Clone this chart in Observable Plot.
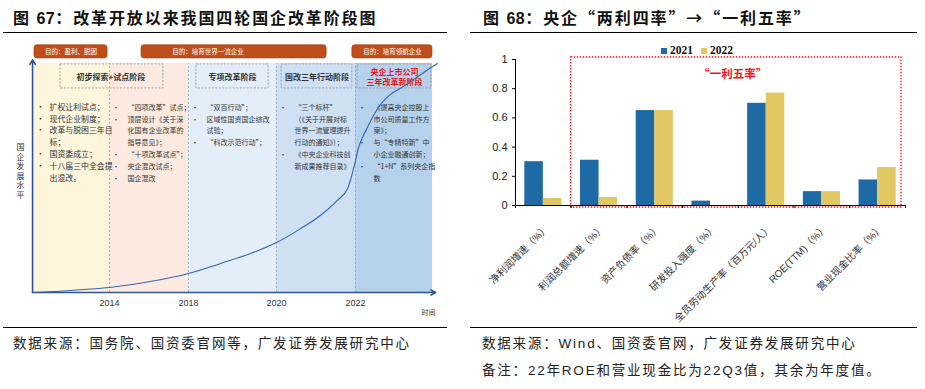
<!DOCTYPE html>
<html><head><meta charset="utf-8">
<script src="https://cdn.jsdelivr.net/npm/d3@7"></script>
<script src="https://cdn.jsdelivr.net/npm/@observablehq/plot@0.6"></script>
<style>
body{margin:0;width:925px;height:389px;position:relative;background:#fff;overflow:hidden;font-family:"Liberation Sans","Noto Sans CJK SC",sans-serif;}
.abs{position:absolute;white-space:nowrap;}
.title{font-family:"Noto Sans CJK SC",sans-serif;font-size:16px;font-weight:bold;letter-spacing:1.9px;color:#111;line-height:18px;}
.title .num{font-family:"Liberation Sans",sans-serif;letter-spacing:0.5px;}
.rule{position:absolute;height:0;border-top:1.5px solid #000;}
.cap{font-size:13.5px;letter-spacing:1.8px;color:#222;line-height:16px;}
.leg{font-family:"Liberation Serif",serif;font-weight:bold;font-size:11.5px;line-height:12px;color:#111;}
.sw{display:inline-block;width:6px;height:6px;margin-right:3px;vertical-align:0px;}
</style></head><body>

<div class="abs title" style="left:13px;top:8px">图 <span class="num">67</span>：改革开放以来我国四轮国企改革阶段图</div>
<div class="rule" style="left:3px;width:444px;top:32px"></div>
<div id="left" class="abs" style="left:0;top:40px;width:460px;height:285px"></div>
<div class="rule" style="left:3px;width:444px;top:327px"></div>
<div class="abs cap" style="left:13px;top:336px">数据来源：国务院、国资委官网等，广发证券发展研究中心</div>

<div class="abs title" style="left:483px;top:8px">图 <span class="num">68</span>：央企“两利四率”→“一利五率”</div>
<div class="rule" style="left:470px;width:447px;top:32px"></div>
<div id="legend" class="abs leg" style="left:661px;top:44px"></div>
<div id="right" class="abs" style="left:470px;top:40px;width:450px;height:290px"></div>
<div class="rule" style="left:470px;width:447px;top:327px"></div>
<div class="abs cap" style="left:482px;top:336px">数据来源：Wind、国资委官网，广发证券发展研究中心</div>
<div class="abs cap" style="left:482px;top:363px">备注：22年ROE和营业现金比为22Q3值，其余为年度值。</div>

<script>
// ---------- Right chart data ----------
const categories = ["净利润增速（%）","利润总额增速（%）","资产负债率（%）","研发投入强度（%）","全员劳动生产率（百万元/人）","ROE(TTM)（%）","营业现金比率（%）"];
const values2021 = [0.30, 0.31, 0.65, 0.03, 0.70, 0.095, 0.175];
const values2022 = [0.048, 0.055, 0.65, 0, 0.77, 0.095, 0.26];
const seriesNames = ["2021", "2022"];
const yTicks = [0, 0.2, 0.4, 0.6, 0.8, 1];
const highlightLabel = "“一利五率”";
const highlightFirst = "利润总额增速（%）";

// ---------- Left diagram data ----------
const bandEdges = [2010, 2014, 2018, 2020, 2022, 2024];
const yearTicks = [2014, 2018, 2020, 2022];
const curveYears  = [2010, 2011.95, 2014, 2016.08, 2018, 2018.73, 2019.41, 2020, 2020.61, 2021.11, 2021.54, 2021.80, 2021.92, 2022, 2022.08, 2022.18, 2022.31, 2022.44, 2022.65, 2022.91, 2023.25, 2023.77, 2024.13];
const curveLevels = [0, 0.9, 2.2, 4.8, 8.3, 12.7, 17.0, 21.8, 27.9, 33.6, 40.2, 45.4, 52.0, 57.6, 63.3, 67.7, 72.1, 76.4, 82.1, 86.5, 90.0, 96.1, 100];
const goalLabels = ["目的：盈利、脱困", "目的：培育世界一流企业", "目的：培育领航企业"];
const goalStart = [2010.05, 2015.62, 2021.92];
const goalEnd = [2013.9, 2021.27, 2024];
const stageNames = ["初步探索+试点阶段", "专项改革阶段", "国改三年行动阶段", "央企上市公司\n三年改革新阶段"];
const stageStart = [2011.42, 2018.18, 2020.13, 2022.05];
const stageEnd = [2016.73, 2019.82, 2021.92, 2023.97];
const bulletColumns = [
  ["扩权让利试点；", "现代企业制度；", "改革与脱困三年目\n标；", "国资委成立；", "十八届三中全会提\n出混改。"],
  ["“四项改革”试点；", "顶层设计《关于深\n化国有企业改革的\n指导意见》；", "“十项改革试点”；", "央企混改试点；", "国企混改"],
  ["“双百行动”；", "区域性国资国企综改\n试验；", "“科改示范行动”；"],
  ["“三个标杆”\n（《关于开展对标\n世界一流管理提升\n行动的通知》）；", "《中央企业科技创\n新成果推荐目录》"],
  ["《提高央企控股上\n市公司质量工作方\n案》；", "与“专精特新”中\n小企业融通创新；", "“1+N”系列央企指\n数"]
];
const yLabel = "国企发展水平";
const xLabel = "时间";

// ---------- Legend ----------
const legendColors = ["#1D6AA5", "#E2C865"];
document.getElementById("legend").innerHTML = seriesNames.map((s, i) =>
  `<span style="margin-right:8px"><span class="sw" style="background:${legendColors[i]}"></span>${s}</span>`).join("");

// ---------- Right chart ----------
const rows = categories.flatMap((c, i) => [
  {i, series: seriesNames[0], v: values2021[i]},
  {i, series: seriesNames[1], v: values2022[i]}
]);
const bw = 1 / 3;
const n = categories.length;
const right = Plot.plot({
  width: 450, height: 290,
  marginLeft: 45, marginRight: 15, marginTop: 19, marginBottom: 125,
  x: {type: "linear", domain: [-0.5, n - 0.5]},
  y: {domain: [0, 1]},
  color: {domain: seriesNames, range: legendColors},
  style: {fontFamily: "Liberation Sans, Noto Sans CJK SC", fontSize: "11px", color: "#222", background: "transparent", overflow: "visible"},
  marks: [
    Plot.rectY(rows, {
      x1: d => d.series === seriesNames[0] ? d.i - bw : d.i,
      x2: d => d.series === seriesNames[0] ? d.i : d.i + bw,
      y: "v", fill: "series"
    }),
    Plot.rect([0], {x1: categories.indexOf(highlightFirst) - 0.5, x2: n - 0.5, y1: 0, y2: 1,
      fill: "none", stroke: "#E8141B", strokeWidth: 1.3, strokeDasharray: "1.5,1.5",
      insetTop: -2, insetBottom: -2, insetRight: 4}),
    Plot.text([highlightLabel], {x: 3.4, y: 0.9, fill: "#F0141E", fontWeight: "bold", fontSize: 11.5, fontFamily: "Noto Sans CJK SC"}),
    Plot.axisY({ticks: yTicks, tickSize: 3, tickPadding: 5, tickFormat: d => String(d), label: null, fontSize: 11, stroke: "#000"}),
    Plot.ruleX([-0.5], {y1: 0, y2: 1, stroke: "#000"}),
    Plot.ruleY([0], {stroke: "#000"}),
    Plot.axisX({ticks: d3.range(-0.5, n, 1), tickSize: 3, tickFormat: () => "", label: null, stroke: "#000"}),
    Plot.axisX({ticks: d3.range(n), tickSize: 0, tickPadding: 21, dx: 4, tickRotate: -45,
      tickFormat: i => categories[i], label: null, fontSize: 10, fill: "#333"})
  ]
});
document.getElementById("right").appendChild(right);

// ---------- Left diagram ----------
const bands = bandEdges.slice(0, -1).map((s, i) => ({k: i, start: s, end: bandEdges[i + 1]}));
const curve = curveYears.map((y, i) => ({year: y, level: curveLevels[i]}));
const goals = goalLabels.map((g, i) => ({label: g, start: goalStart[i], end: goalEnd[i]}));
const stages = stageNames.map((s, i) => ({name: s, start: stageStart[i], end: stageEnd[i], last: i === stageNames.length - 1}));
const axisColor = "#2F5597";

const colMarks = bulletColumns.flatMap((items, ci) => {
  const fs = ci === 0 ? 7.9 : 7;
  const lh = 11.8 / fs;
  const txt = items.join("\n");
  const bul = items.map(it => "•" + "\n".repeat(it.split("\n").length - 1)).join("\n");
  const common = {x: bandEdges[ci], frameAnchor: "top", dy: 38, lineAnchor: "top", textAnchor: "start",
    fontSize: fs, lineHeight: lh, fill: "#333", fontFamily: "Noto Sans CJK SC"};
  return [
    Plot.text([bul], {...common, text: d => d, dx: 3}),
    Plot.text([txt], {...common, text: d => d, dx: ci === 0 ? 16 : 18})
  ];
});

const left = Plot.plot({
  width: 460, height: 285,
  marginLeft: 33, marginRight: 28, marginTop: 23, marginBottom: 33,
  x: {type: "linear", domain: bandEdges, range: [33, 109, 188, 276, 355, 432]},
  y: {domain: [0, 100], range: [252, 23], axis: null},
  color: {type: "ordinal", domain: d3.range(5), range: ["#FEF5DD", "#FCEAE0", "#E4EEF8", "#CEE0F2", "#B5D1EB"]},
  style: {fontFamily: "Liberation Sans, Noto Sans CJK SC", fontSize: "9px", color: "#333", background: "transparent", overflow: "visible"},
  marks: [
    Plot.rect(bands, {x1: "start", x2: "end", y1: 0, y2: 100, fill: "k"}),
    Plot.ruleX(yearTicks, {y1: 0, y2: 100, stroke: "#9AA", strokeDasharray: "2,2", strokeWidth: 0.8}),
    Plot.rect(goals, {x1: "start", x2: "end", y1: 102.2, y2: 108, fill: "#BE4F1B", stroke: "#A03F12", strokeWidth: 0.6, rx: 3}),
    Plot.text(goals, {x: d => (d.start + d.end) / 2, y: 105.1, text: "label", fill: "#fff", fontSize: 6.5, fontFamily: "Noto Sans CJK SC"}),
    Plot.rect(stages, {x1: "start", x2: "end", y1: 89.1, y2: 99.6, fill: "none", stroke: "#8A8F96", strokeWidth: 0.8, strokeDasharray: "2,1.5"}),
    Plot.text(stages, {x: d => (d.start + d.end) / 2, y: 94.3, text: "name", fill: d => d.last ? "#E8141B" : "#333",
      fontSize: 8, lineHeight: 1.3, fontWeight: "bold", fontFamily: "Noto Sans CJK SC"}),
    ...colMarks,
    Plot.line(curve, {x: "year", y: "level", curve: "monotone-x", stroke: "#3563AD", strokeWidth: 1.1}),
    Plot.arrow([0], {x1: 2009.95, y1: 0, x2: 2009.95, y2: 101.6, stroke: axisColor, strokeWidth: 1.6, headLength: 5}),
    Plot.arrow([0], {x1: 2009.95, y1: 0, x2: 2024.08, y2: 0, stroke: axisColor, strokeWidth: 1.6, headLength: 5}),
    Plot.axisX({ticks: yearTicks, tickSize: 0, tickPadding: 7, tickFormat: d => String(d), label: null, fontSize: 9, fill: "#333"}),
    Plot.text([xLabel], {frameAnchor: "bottom-right", dx: 3, dy: 22, textAnchor: "end", fontSize: 7, fill: "#333", fontFamily: "Noto Sans CJK SC"}),
    Plot.text([yLabel], {frameAnchor: "left", dx: -17, dy: -7, text: d => d.split("").join("\n"), lineHeight: 1.2, fontSize: 8, fill: "#333", fontFamily: "Noto Sans CJK SC"})
  ]
});
document.getElementById("left").appendChild(left);
</script>
</body></html>
